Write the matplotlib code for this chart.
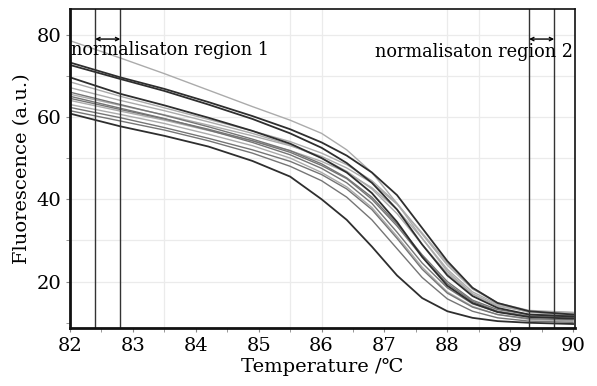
import matplotlib
matplotlib.use("Agg")
import matplotlib.pyplot as plt

# temperature points
temps = [82.0, 82.8, 83.5, 84.2, 84.9, 85.5, 86.0, 86.4, 86.8, 87.2, 87.6, 88.0, 88.4, 88.8, 89.3, 90.0]

# melting curves (fluorescence, a.u.)
curve1 = [73.2, 69.6, 66.8, 63.6, 60.2, 57.0, 53.8, 50.6, 46.5, 41.0, 33.0, 25.0, 18.5, 14.8, 12.8, 12.0]
curve2 = [72.6, 69.2, 66.3, 63.0, 59.5, 56.0, 52.5, 48.8, 44.0, 37.5, 29.0, 21.5, 16.5, 13.6, 12.0, 11.5]
curve3 = [69.6, 65.6, 62.8, 59.8, 56.6, 53.5, 50.0, 46.5, 41.5, 34.5, 26.0, 19.0, 14.8, 12.6, 11.4, 11.0]
curve4 = [68.5, 65.0, 62.2, 59.4, 56.6, 54.0, 51.2, 48.4, 44.5, 39.0, 31.5, 24.0, 18.2, 14.8, 13.0, 12.5]
curve5 = [67.1, 64.0, 61.5, 58.8, 56.0, 53.2, 50.0, 46.8, 42.5, 36.5, 29.0, 22.0, 17.0, 14.2, 12.6, 12.2]
curve6 = [66.0, 63.0, 60.4, 57.6, 54.6, 51.8, 48.6, 45.2, 40.5, 34.0, 26.5, 20.0, 15.5, 13.2, 12.0, 11.7]
curve7 = [65.0, 62.1, 59.6, 56.8, 53.8, 50.8, 47.5, 44.0, 39.0, 32.0, 24.5, 18.5, 14.6, 12.6, 11.6, 11.3]
curve8 = [64.0, 61.4, 59.2, 56.7, 54.2, 51.8, 49.2, 46.5, 42.8, 37.5, 30.5, 23.0, 17.5, 14.5, 12.8, 12.3]
curve9 = [62.3, 59.8, 57.4, 54.8, 52.0, 49.2, 46.0, 42.5, 37.5, 30.5, 23.0, 17.2, 13.8, 12.0, 11.0, 10.7]
curve10 = [60.8, 57.7, 55.4, 52.8, 49.3, 45.5, 40.0, 35.0, 28.5, 21.5, 16.0, 12.8, 11.2, 10.4, 10.0, 9.7]
curve11 = [78.5, 74.3, 70.5, 66.5, 62.5, 59.2, 56.0, 52.0, 46.5, 39.0, 30.5, 22.5, 17.0, 14.0, 12.8, 12.5]
curve12 = [63.0, 60.6, 58.4, 55.8, 53.0, 50.0, 46.5, 43.0, 38.0, 31.0, 23.5, 17.5, 14.0, 12.0, 10.8, 10.4]
curve13 = [61.5, 59.0, 56.8, 54.2, 51.2, 48.0, 44.5, 40.5, 35.0, 28.0, 21.0, 15.8, 12.8, 11.2, 10.4, 10.1]
curve14 = [65.5, 62.8, 60.5, 58.0, 55.4, 53.0, 50.4, 47.6, 44.0, 38.8, 31.8, 24.5, 18.5, 14.8, 12.5, 11.8]
curve15 = [64.5, 61.8, 59.5, 57.0, 54.2, 51.4, 48.2, 45.0, 40.0, 33.5, 26.0, 19.5, 15.2, 12.8, 11.6, 11.2]

dark = [curve1, curve2, curve3, curve10]
mid = [curve6, curve7, curve9, curve13, curve15]
light = [curve4, curve5, curve8, curve11, curve12, curve14]

region1 = [82.4, 82.8]
region2 = [89.3, 89.7]

plt.rcParams['font.family'] = ['DejaVu Serif', 'DejaVu Sans']

fig = plt.figure(figsize=(5.97, 3.86), dpi=100)
ax = fig.add_axes([0.1173, 0.151, 0.8458, 0.8257])

ax.set_xlim(82, 90.03)
ax.set_ylim(8.8, 86.2)

# faint grid
for gx in [83.5, 85.5, 86.0, 88.0, 88.5]:
    ax.axvline(gx, color='#ebebeb', linewidth=0.9, zorder=0)
for gy in [20, 30, 40, 50, 60, 70, 80]:
    ax.axhline(gy, color='#ebebeb', linewidth=0.9, zorder=0)

for c in light:
    ax.plot(temps, c, color='#ababab', linewidth=1.0)
for c in mid:
    ax.plot(temps, c, color='#757575', linewidth=1.0)
for c in dark:
    ax.plot(temps, c, color='#2e2e2e', linewidth=1.3)

# normalisation regions
for x in region1 + region2:
    ax.axvline(x, color='#333333', linewidth=1.0)
for r in [region1, region2]:
    ax.annotate('', xy=(r[0], 78.9), xytext=(r[1], 78.9),
                arrowprops=dict(arrowstyle='<->', color='black', lw=1.0,
                                shrinkA=0, shrinkB=0, mutation_scale=6))
ax.text(82.02, 76.2, 'normalisaton region 1', fontsize=12.8, va='center', ha='left')
ax.text(90.0, 75.8, 'normalisaton region 2', fontsize=12.8, va='center', ha='right')

ax.set_xticks(range(82, 91))
ax.set_xticks([82.5 + i for i in range(8)], minor=True)
ax.set_yticks([20, 40, 60, 80])
ax.set_yticks([10, 30, 50, 70], minor=True)
ax.tick_params(which='both', direction='out', length=3, color='#888888', labelsize=14)

ax.spines['left'].set_linewidth(2.0)
ax.spines['bottom'].set_linewidth(2.0)
ax.spines['top'].set_linewidth(1.2)
ax.spines['right'].set_linewidth(1.2)
for s in ax.spines.values():
    s.set_color('#111111')

ax.set_xlabel('Temperature /℃', fontsize=14, labelpad=2)
ax.set_ylabel('Fluorescence (a.u.)', fontsize=14, labelpad=4)

fig.savefig('out.png', dpi=100, facecolor='white')
